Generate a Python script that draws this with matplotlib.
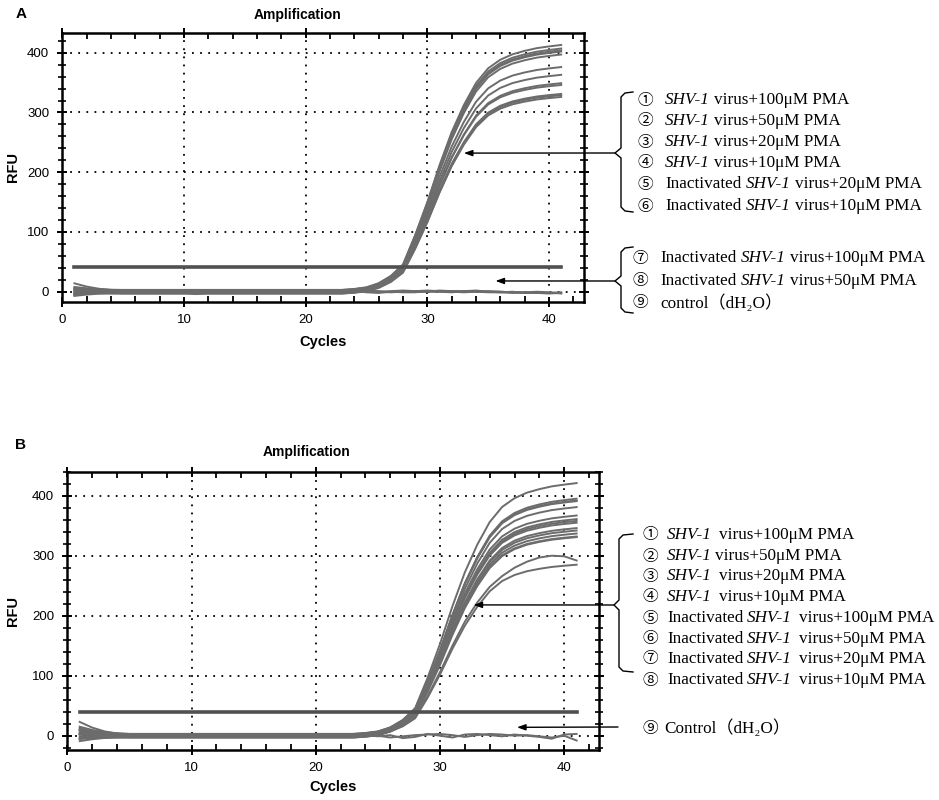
import matplotlib
matplotlib.use('Agg')
import matplotlib.pyplot as plt
from matplotlib.lines import Line2D
from matplotlib.ticker import MultipleLocator
import numpy as np

plt.rcParams['font.family'] = ['Liberation Sans', 'DejaVu Sans']

# ---- data ----
cycles = list(range(1, 42))

# normalised amplification profile (fraction of plateau) per cycle
shape = [0.0] * 23 + [0.004, 0.011, 0.028, 0.058, 0.105, 0.225, 0.36, 0.51, 0.645,
                      0.755, 0.845, 0.905, 0.94, 0.962, 0.976, 0.987, 0.994, 1.0]
# how the start-of-run scatter dies away over the first cycles
decay = [1.0, 0.55, 0.25, 0.08] + [0.0] * 37

# panel A: amplified wells (plateau RFU, value at cycle 1, baseline offset)
a_plateau = [411, 406, 404, 402, 400, 375, 364, 351, 343, 332, 329, 326]
a_start = [12, 8, 5, 3, 1, -1, -3, -5, -8, 6, 2, -4]
a_base = [2, -2, 3, 0, -3, 1, -1, -2, 3, -3, 2, 0]
# panel A: wells that stay flat
a_flat = [
    [6, 3, 1, 0, 1, 0, -1, 0, 1, -2, -3, -1, 0, 1, 2, 1, 0, -1, 0, 1, 0, -1, 1, 2, 1, 0, -1, 0, 1, 2, 1, 0, -1, 0, 1, 0, -1, -2, -1, -2, -2],
    [-6, -3, -1, 0, -1, 1, 0, -1, 0, 0, -2, 0, 1, 0, 1, 2, 0, -2, -1, 0, 1, 0, 2, 1, -1, -2, 0, 1, 0, 0, 2, 1, 0, 1, 0, -1, -2, -1, -2, -3, -2],
    [2, 1, 0, 2, 1, 0, 1, 0, -1, -1, -4, -2, 0, 0, 3, 1, 1, 0, 1, 0, -1, 1, 3, 1, 0, -1, 1, 2, 1, 0, 0, 1, 1, 2, 0, 0, -1, -1, 0, -1, -3],
    [-2, 0, 1, -1, 0, 1, 0, 1, 0, 1, -2, -1, -1, 1, 0, 0, -1, -1, 0, 0, 1, 0, 0, -1, 2, 1, 0, -1, -1, 1, 0, -1, 1, 0, -1, -1, 0, -2, -2, -2, -1],
]
a_threshold = 41.8

# panel B
b_plateau = [419, 397, 392, 388, 384, 366, 362, 358, 353, 349, 341, 337, 333, 329, 286]
b_start = [21, 15, 10, 8, 6, 4, 3, 2, 0, -2, -3, -5, -7, 12, 5]
b_base = [2, -2, 0, 3, -3, 1, -1, 0, 2, -3, 1, 0, -2, 3, -1]
b_dip = [9, 4, 2, 1, 0, 0, 1, 0, -1, 0, -1, 0, 1, 0, 0, 1, 0, -1, 0, 0, 1, 0, 0, 1, 3,
         8, 17, 32, 66, 106, 150, 190, 222, 248, 266, 280, 290, 297, 300, 299, 292]
b_flat = [
    [8, 4, 2, 1, 0, 1, 0, -1, 0, -1, -2, -1, 0, 1, 1, 0, -1, 0, 1, 0, 2, 1, 0, -1, 0, -3, -1, 1, 2, 3, 1, -2, 1, 3, 2, 0, 1, -1, -3, 0, -8],
    [-5, -2, 0, 1, 0, -1, 0, 0, -1, -2, -1, 0, 1, 0, -1, 0, 1, 0, -1, 1, 3, 1, 0, 1, -1, 1, -4, -2, 3, 0, -3, 2, 3, 1, -1, 2, 0, -2, -5, 2, 3],
]
b_threshold = 39

# legend texts: (text, italic) pieces
nums_a1 = ['①', '②', '③', '④', '⑤', '⑥']
text_a1 = [
    [('SHV-1', True), (' virus+100μM PMA', False)],
    [('SHV-1', True), (' virus+50μM PMA', False)],
    [('SHV-1', True), (' virus+20μM PMA', False)],
    [('SHV-1', True), (' virus+10μM PMA', False)],
    [('Inactivated', False), (' SHV-1', True), (' virus+20μM PMA', False)],
    [('Inactivated', False), (' SHV-1', True), (' virus+10μM PMA', False)],
]
nums_a2 = ['⑦', '⑧', '⑨']
text_a2 = [
    [('Inactivated', False), (' SHV-1', True), (' virus+100μM PMA', False)],
    [('Inactivated', False), (' SHV-1', True), (' virus+50μM PMA', False)],
    [('control（dH₂O）', False)],
]
nums_b1 = ['①', '②', '③', '④', '⑤', '⑥', '⑦', '⑧']
text_b1 = [
    [('SHV-1', True), ('  virus+100μM PMA', False)],
    [('SHV-1', True), (' virus+50μM PMA', False)],
    [('SHV-1', True), ('  virus+20μM PMA', False)],
    [('SHV-1', True), ('  virus+10μM PMA', False)],
    [('Inactivated', False), (' SHV-1', True), ('  virus+100μM PMA', False)],
    [('Inactivated', False), (' SHV-1', True), ('  virus+50μM PMA', False)],
    [('Inactivated', False), (' SHV-1', True), ('  virus+20μM PMA', False)],
    [('Inactivated', False), (' SHV-1', True), ('  virus+10μM PMA', False)],
]
nums_b2 = ['⑨']
text_b2 = [[('Control（dH₂O）', False)]]

# arrow tips (cycle, RFU)
tips_a = [(33.0, 232), (35.6, 18)]
tips_b = [(32.7, 218), (36.2, 14)]

# ---- drawing ----
W, H = 939, 800
fig = plt.figure(figsize=(W / 100, H / 100), dpi=100)
renderer = fig.canvas.get_renderer()

CURVE = '#6c6c6c'
SERIF = ['Liberation Serif', 'Noto Sans CJK SC', 'DejaVu Sans']


def fx(x):
    return x / W


def fy(y):
    return 1 - y / H


def make_panel(rect, xlim, ylim, thr, plateau, start, base, flats, extra=None):
    ax = fig.add_axes(rect)
    x = np.array(cycles)
    for p, s, b in zip(plateau, start, base):
        y = b + s * np.array(decay) + p * np.array(shape)
        ax.plot(x, y, color=CURVE, lw=1.4, zorder=3)
    if extra is not None:
        ax.plot(x, extra, color=CURVE, lw=1.4, zorder=3)
    for f in flats:
        ax.plot(x, f, color=CURVE, lw=1.4, zorder=3)
    ax.plot([cycles[0], cycles[-1]], [thr, thr], color='#505050', lw=2.6, zorder=4)

    ax.set_xlim(*xlim)
    ax.set_ylim(*ylim)
    ax.xaxis.set_major_locator(MultipleLocator(10))
    ax.xaxis.set_minor_locator(MultipleLocator(2))
    ax.yaxis.set_major_locator(MultipleLocator(100))
    ax.yaxis.set_minor_locator(MultipleLocator(20))
    for s in ax.spines.values():
        s.set_linewidth(1.8)
    ax.tick_params(which='major', direction='inout', length=7, width=1.4,
                   top=True, right=True, labelsize=9.5)
    ax.tick_params(axis='y', which='major', pad=6)
    ax.tick_params(axis='x', which='major', pad=5)
    ax.tick_params(axis='x', which='minor', direction='in', length=4, width=1.3, top=True)
    ax.tick_params(axis='y', which='minor', direction='inout', length=6, width=1.2, right=True)
    ax.grid(True, which='major', color='black', linestyle=(0, (1, 3.5)), linewidth=1.3)
    ax.set_axisbelow(True)
    return ax


def put_line(xn, xt, y, num, pieces, size=12.3, gap=4.2):
    fig.text(fx(xn), fy(y), num, ha='center', va='center', size=size - 1,
             family=['Noto Sans CJK SC', 'DejaVu Sans'])
    cur = xt
    for txt, it in pieces:
        n = len(txt) - len(txt.lstrip(' '))
        cur += gap * n
        t = fig.text(fx(cur), fy(y), txt.lstrip(' '), ha='left', va='center', size=size,
                     family=SERIF, style='italic' if it else 'normal')
        cur = t.get_window_extent(renderer).x1


def brace(xv, xe, top, mid, bot, nub):
    xs = [xe, xv + 4, xv, xv, nub, xv, xv, xv + 4, xe]
    ys = [top, top + 1, top + 5, mid - 5, mid, mid + 5, bot - 5, bot - 1, bot]
    fig.add_artist(Line2D([fx(v) for v in xs], [fy(v) for v in ys], color='black',
                          lw=1.0, transform=fig.transFigure))


def arrow(ax, tip, start):
    ax.annotate('', xy=tip, xycoords='data', xytext=(start[0], H - start[1]),
                textcoords='figure pixels', annotation_clip=False,
                arrowprops=dict(arrowstyle='-|>,head_length=0.5,head_width=0.18',
                                color='black', lw=1.0, shrinkA=0, shrinkB=0))


# panel A
axA = make_panel([fx(62.3), fy(302.3), fx(584.3) - fx(62.3), fy(32.7) - fy(302.3)],
                 (0, 42.9), (-17.7, 433.5), a_threshold, a_plateau, a_start, a_base, a_flat)
axA.set_xlabel('Cycles', fontweight='bold', fontsize=10.5, va='center')
axA.xaxis.set_label_coords(0.5, -0.147)
axA.set_ylabel('RFU', fontweight='bold', fontsize=10.5, va='center')
axA.yaxis.set_label_coords((13 - 62.3) / 522, 0.5)
fig.text(fx(298), fy(15), 'Amplification', ha='center', va='center', weight='bold', size=10)
fig.text(fx(21), fy(14), 'A', ha='center', va='center', weight='bold', size=11)

for i, (n, p) in enumerate(zip(nums_a1, text_a1)):
    put_line(645, 665, [100, 121, 142, 163, 184, 206][i], n, p)
for i, (n, p) in enumerate(zip(nums_a2, text_a2)):
    put_line(640, 660, [258, 281, 303][i], n, p)
brace(621, 633, 92, 153, 212, 615)
brace(621, 633, 247, 281, 313, 615)
arrow(axA, tips_a[0], (615, 153))
arrow(axA, tips_a[1], (615, 281))

# panel B
axB = make_panel([fx(67.3), fy(750), fx(599) - fx(67.3), fy(471.7) - fy(750)],
                 (0, 42.8), (-23.8, 440), b_threshold, b_plateau, b_start, b_base, b_flat,
                 extra=b_dip)
axB.set_xlabel('Cycles', fontweight='bold', fontsize=10.5, va='center')
axB.xaxis.set_label_coords(0.5, -0.133)
axB.set_ylabel('RFU', fontweight='bold', fontsize=10.5, va='center')
axB.yaxis.set_label_coords((13 - 67.3) / 531.7, 0.5)
fig.text(fx(307), fy(452), 'Amplification', ha='center', va='center', weight='bold', size=10)
fig.text(fx(21), fy(445), 'B', ha='center', va='center', weight='bold', size=11)

for i, (n, p) in enumerate(zip(nums_b1, text_b1)):
    put_line(650, 667, [535, 556, 576, 597, 618, 639, 659, 680][i], n, p, gap=3.6)
put_line(650, 664, 728, nums_b2[0], text_b2[0][0:1])
brace(619, 633, 534, 605, 672, 614)
arrow(axB, tips_b[0], (614, 605))
arrow(axB, tips_b[1], (618, 727))

fig.savefig('out.png', dpi=100)
